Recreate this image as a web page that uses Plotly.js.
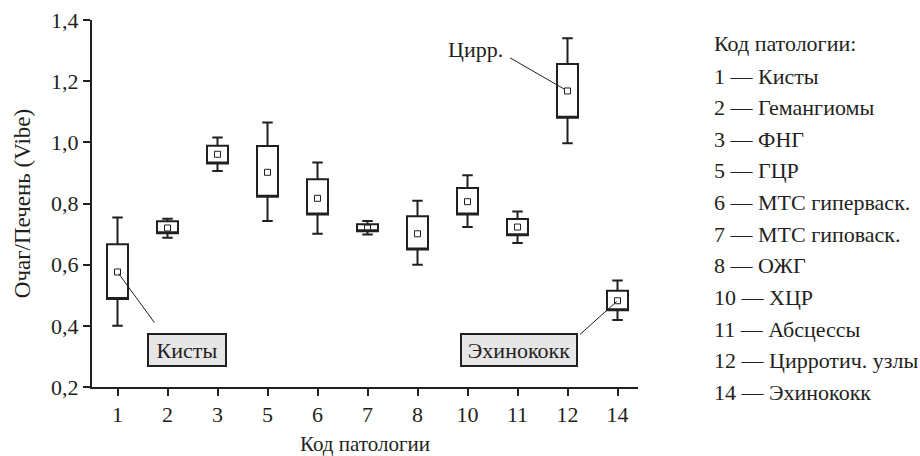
<!DOCTYPE html>
<html>
<head>
<meta charset="utf-8">
<script src="https://cdn.plot.ly/plotly-3.0.1.min.js"></script>
<style>html,body{margin:0;padding:0;background:#fff;}#chart{width:920px;height:456px;}</style>
</head>
<body>
<div id="chart"></div>
<script>
// Data
const codes = ['1', '2', '3', '5', '6', '7', '8', '10', '11', '12', '14'];
const whiskerLow = [0.400, 0.688, 0.906, 0.743, 0.701, 0.699, 0.600, 0.723, 0.671, 0.997, 0.419];
const boxLow     = [0.488, 0.703, 0.931, 0.822, 0.764, 0.709, 0.650, 0.764, 0.696, 1.080, 0.451];
const boxHigh    = [0.667, 0.742, 0.989, 0.988, 0.879, 0.732, 0.758, 0.851, 0.749, 1.256, 0.515];
const whiskerHigh= [0.754, 0.750, 1.016, 1.065, 0.934, 0.743, 0.809, 0.892, 0.774, 1.340, 0.548];
const centers    = [0.576, 0.720, 0.961, 0.902, 0.817, 0.720, 0.701, 0.806, 0.723, 1.168, 0.482];

const legendTitle = 'Код патологии:';
const legendItems = ['1 — Кисты', '2 — Гемангиомы', '3 — ФНГ', '5 — ГЦР', '6 — МТС гиперваск.',
  '7 — МТС гиповаск.', '8 — ОЖГ', '10 — ХЦР', '11 — Абсцессы', '12 — Цирротич. узлы', '14 — Эхинококк'];

const ink = '#231f20';
const serif = '"Liberation Serif", "Times New Roman", serif';

const boxTrace = {
  type: 'box',
  x: codes,
  q1: boxLow,
  median: boxLow,
  q3: boxHigh,
  lowerfence: whiskerLow,
  upperfence: whiskerHigh,
  boxpoints: false,
  width: 0.42,
  whiskerwidth: 0.5,
  fillcolor: '#ffffff',
  line: {color: ink, width: 2},
  hoverinfo: 'skip',
  showlegend: false
};

const meanTrace = {
  type: 'scatter',
  mode: 'markers',
  x: codes,
  y: centers,
  marker: {symbol: 'square-open', size: 6, color: ink, line: {width: 1, color: ink}},
  hoverinfo: 'skip',
  showlegend: false,
  cliponaxis: false
};

// plot area geometry (pixels) used for paper-coordinate conversion
const L = 92, R = 638, T = 19.7, B = 386.7;
const px = v => (v - L) / (R - L);
const py = v => (B - v) / (B - T);

const annotations = [];
// legend on the right
annotations.push({xref: 'paper', yref: 'paper', x: px(712), y: py(43), xanchor: 'left', yanchor: 'middle',
  text: legendTitle, showarrow: false, font: {family: serif, size: 22, color: ink}});
legendItems.forEach((t, i) => {
  annotations.push({xref: 'paper', yref: 'paper', x: px(712), y: py(75.7 + i * 31.66), xanchor: 'left', yanchor: 'middle',
    text: t, showarrow: false, font: {family: serif, size: 22, color: ink}});
});

// callout lines (x given as category index)
const idx = c => codes.indexOf(c);
const arrowBase = {text: '', showarrow: true, arrowhead: 0, arrowwidth: 1, arrowcolor: ink, xref: 'x', yref: 'y'};
annotations.push(Object.assign({}, arrowBase, {x: idx('1'), y: centers[idx('1')], ax: 38, ay: 52, standoff: 2}));
annotations.push(Object.assign({}, arrowBase, {x: idx('14'), y: centers[idx('14')], ax: -39, ay: 35, standoff: 1}));
annotations.push(Object.assign({}, arrowBase, {x: idx('12'), y: centers[idx('12')], ax: -59, ay: -34, standoff: 4}));

// callout labels
annotations.push({xref: 'paper', yref: 'paper', x: px(186.7), y: py(349.5), xanchor: 'center', yanchor: 'middle',
  text: 'Кисты', showarrow: false, bgcolor: '#e6e6e6', bordercolor: ink, borderwidth: 2, borderpad: 3,
  width: 70, height: 24, font: {family: serif, size: 22, color: ink}});
annotations.push({xref: 'paper', yref: 'paper', x: px(519), y: py(349.9), xanchor: 'center', yanchor: 'middle',
  text: 'Эхинококк', showarrow: false, bgcolor: '#e6e6e6', bordercolor: ink, borderwidth: 2, borderpad: 3,
  width: 108, height: 24, font: {family: serif, size: 22, color: ink}});
annotations.push({xref: 'paper', yref: 'paper', x: px(475.5), y: py(49.5), xanchor: 'center', yanchor: 'middle',
  text: 'Цирр.', showarrow: false, font: {family: serif, size: 22, color: ink}});

const layout = {
  width: 920, height: 456,
  margin: {l: L, r: 920 - R, t: T, b: 456 - B, pad: 0},
  paper_bgcolor: '#ffffff', plot_bgcolor: '#ffffff',
  separators: ',.',
  showlegend: false,
  font: {family: serif, color: ink, size: 20},
  xaxis: {
    type: 'category', range: [-0.51, 10.41], fixedrange: true,
    showline: true, linecolor: ink, linewidth: 2, mirror: false,
    showgrid: false, zeroline: false,
    ticks: 'outside', ticklen: 7, tickwidth: 2, tickcolor: ink,
    tickfont: {family: serif, size: 22, color: ink},
    title: {text: 'Код патологии', font: {family: serif, size: 21, color: ink}, standoff: 10}
  },
  yaxis: {
    range: [0.2, 1.4], tickvals: [0.2, 0.4, 0.6, 0.8, 1.0, 1.2, 1.4], tickformat: '.1f',
    showline: true, linecolor: ink, linewidth: 2,
    showgrid: false, zeroline: false,
    ticks: 'outside', ticklen: 7, tickwidth: 2, tickcolor: ink,
    tickfont: {family: serif, size: 22, color: ink},
    title: {text: 'Очаг/Печень (Vibe)', font: {family: serif, size: 23, color: ink}, standoff: 14}
  },
  annotations: annotations
};

Plotly.newPlot('chart', [boxTrace, meanTrace], layout, {staticPlot: true, displayModeBar: false});
</script>
</body>
</html>
